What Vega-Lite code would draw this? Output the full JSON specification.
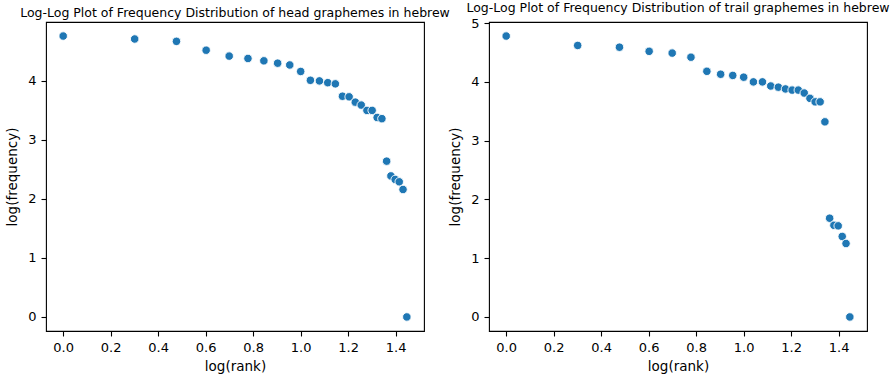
{
  "$schema": "https://vega.github.io/schema/vega-lite/v6.json",
  "autosize": {"type": "pad"},
  "padding": {"left": 5, "top": 1, "right": 0, "bottom": 0},
  "background": "white",
  "spacing": 65,
  "bounds": "flush",
  "config": {
    "font": "DejaVu Sans",
    "view": {"stroke": "black", "strokeWidth": 1.1},
    "axis": {
      "grid": false,
      "domain": false,
      "tickColor": "black",
      "tickSize": 5,
      "tickWidth": 1.1,
      "labelColor": "black",
      "labelFont": "DejaVu Sans",
      "labelFontSize": 13,
      "labelPadding": 5,
      "titleFont": "DejaVu Sans",
      "titleFontSize": 13.5,
      "titleFontWeight": "normal",
      "titleColor": "black"
    },
    "title": {"font": "DejaVu Sans", "fontSize": 12.5, "fontWeight": "normal", "color": "black", "offset": 3}
  },
  "datasets": {
    "pts": [
      {"panel": "head", "logrank": 0.0, "logfreq": 4.76},
      {"panel": "head", "logrank": 0.301, "logfreq": 4.71},
      {"panel": "head", "logrank": 0.477, "logfreq": 4.67},
      {"panel": "head", "logrank": 0.602, "logfreq": 4.52},
      {"panel": "head", "logrank": 0.699, "logfreq": 4.42},
      {"panel": "head", "logrank": 0.778, "logfreq": 4.38},
      {"panel": "head", "logrank": 0.845, "logfreq": 4.34},
      {"panel": "head", "logrank": 0.903, "logfreq": 4.30},
      {"panel": "head", "logrank": 0.954, "logfreq": 4.27},
      {"panel": "head", "logrank": 1.0, "logfreq": 4.16},
      {"panel": "head", "logrank": 1.041, "logfreq": 4.01},
      {"panel": "head", "logrank": 1.079, "logfreq": 4.00},
      {"panel": "head", "logrank": 1.114, "logfreq": 3.97},
      {"panel": "head", "logrank": 1.146, "logfreq": 3.95},
      {"panel": "head", "logrank": 1.176, "logfreq": 3.74},
      {"panel": "head", "logrank": 1.204, "logfreq": 3.73},
      {"panel": "head", "logrank": 1.230, "logfreq": 3.64},
      {"panel": "head", "logrank": 1.255, "logfreq": 3.59},
      {"panel": "head", "logrank": 1.279, "logfreq": 3.50},
      {"panel": "head", "logrank": 1.301, "logfreq": 3.50},
      {"panel": "head", "logrank": 1.322, "logfreq": 3.38},
      {"panel": "head", "logrank": 1.342, "logfreq": 3.36},
      {"panel": "head", "logrank": 1.362, "logfreq": 2.64},
      {"panel": "head", "logrank": 1.380, "logfreq": 2.39},
      {"panel": "head", "logrank": 1.398, "logfreq": 2.33},
      {"panel": "head", "logrank": 1.415, "logfreq": 2.29},
      {"panel": "head", "logrank": 1.431, "logfreq": 2.16},
      {"panel": "head", "logrank": 1.447, "logfreq": 0.0},
      {"panel": "trail", "logrank": 0.0, "logfreq": 4.78},
      {"panel": "trail", "logrank": 0.301, "logfreq": 4.62},
      {"panel": "trail", "logrank": 0.477, "logfreq": 4.59},
      {"panel": "trail", "logrank": 0.602, "logfreq": 4.52},
      {"panel": "trail", "logrank": 0.699, "logfreq": 4.49},
      {"panel": "trail", "logrank": 0.778, "logfreq": 4.42},
      {"panel": "trail", "logrank": 0.845, "logfreq": 4.18},
      {"panel": "trail", "logrank": 0.903, "logfreq": 4.13},
      {"panel": "trail", "logrank": 0.954, "logfreq": 4.11},
      {"panel": "trail", "logrank": 1.0, "logfreq": 4.08},
      {"panel": "trail", "logrank": 1.041, "logfreq": 4.00},
      {"panel": "trail", "logrank": 1.079, "logfreq": 4.00},
      {"panel": "trail", "logrank": 1.114, "logfreq": 3.93},
      {"panel": "trail", "logrank": 1.146, "logfreq": 3.91},
      {"panel": "trail", "logrank": 1.176, "logfreq": 3.88},
      {"panel": "trail", "logrank": 1.204, "logfreq": 3.86},
      {"panel": "trail", "logrank": 1.230, "logfreq": 3.86},
      {"panel": "trail", "logrank": 1.255, "logfreq": 3.81},
      {"panel": "trail", "logrank": 1.279, "logfreq": 3.72},
      {"panel": "trail", "logrank": 1.301, "logfreq": 3.66},
      {"panel": "trail", "logrank": 1.322, "logfreq": 3.66},
      {"panel": "trail", "logrank": 1.342, "logfreq": 3.32},
      {"panel": "trail", "logrank": 1.362, "logfreq": 1.68},
      {"panel": "trail", "logrank": 1.380, "logfreq": 1.56},
      {"panel": "trail", "logrank": 1.398, "logfreq": 1.55},
      {"panel": "trail", "logrank": 1.415, "logfreq": 1.37},
      {"panel": "trail", "logrank": 1.431, "logfreq": 1.25},
      {"panel": "trail", "logrank": 1.447, "logfreq": 0.0}
    ]
  },
  "hconcat": [
    {
      "width": 378,
      "height": 309,
      "title": "Log-Log Plot of Frequency Distribution of head graphemes in hebrew",
      "data": {"name": "pts"},
      "transform": [{"filter": "datum.panel === 'head'"}],
      "mark": {"type": "point", "shape": "circle", "filled": true, "size": 72, "fill": "#1f77b4", "stroke": "white", "strokeWidth": 0.9, "opacity": 1},
      "encoding": {
        "x": {"field": "logrank", "type": "quantitative", "title": "log(rank)",
              "scale": {"domain": [-0.0724, 1.5193], "nice": false, "zero": false},
              "axis": {"values": [0, 0.2, 0.4, 0.6, 0.8, 1.0, 1.2, 1.4], "format": ".1f", "titlePadding": 5}},
        "y": {"field": "logfreq", "type": "quantitative", "title": "log(frequency)",
              "scale": {"domain": [-0.238, 4.998], "nice": false, "zero": false},
              "axis": {"values": [0, 1, 2, 3, 4], "format": "d", "titlePadding": 8}}
      }
    },
    {
      "width": 378,
      "height": 309,
      "title": "Log-Log Plot of Frequency Distribution of trail graphemes in hebrew",
      "data": {"name": "pts"},
      "transform": [{"filter": "datum.panel === 'trail'"}],
      "mark": {"type": "point", "shape": "circle", "filled": true, "size": 72, "fill": "#1f77b4", "stroke": "white", "strokeWidth": 0.9, "opacity": 1},
      "encoding": {
        "x": {"field": "logrank", "type": "quantitative", "title": "log(rank)",
              "scale": {"domain": [-0.0724, 1.5193], "nice": false, "zero": false},
              "axis": {"values": [0, 0.2, 0.4, 0.6, 0.8, 1.0, 1.2, 1.4], "format": ".1f", "titlePadding": 5}},
        "y": {"field": "logfreq", "type": "quantitative", "title": "log(frequency)",
              "scale": {"domain": [-0.239, 5.019], "nice": false, "zero": false},
              "axis": {"values": [0, 1, 2, 3, 4, 5], "format": "d", "titlePadding": 8}}
      }
    }
  ]
}
